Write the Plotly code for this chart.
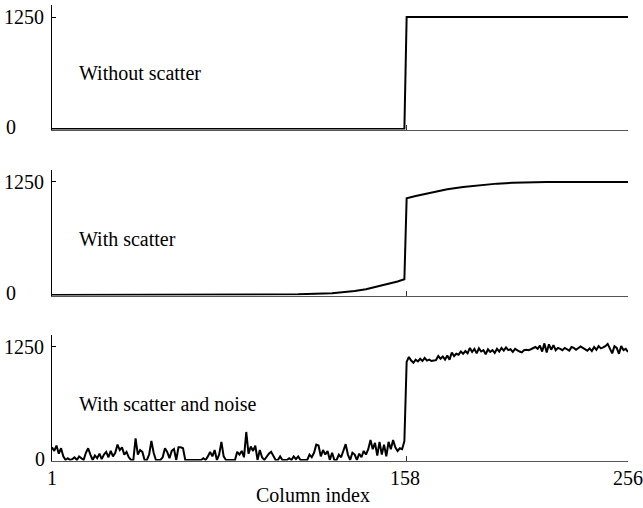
import plotly.graph_objects as go

W, H = 643, 508

# ---- data ----
cols_clean = [1, 157, 158, 256]
vals_clean = [0, 0, 1250, 1250]

cols_scatter = [1, 60, 80, 96, 110, 125, 130, 135, 140, 145, 150, 154, 157,
                158, 162, 168, 176, 183, 190, 198, 205, 212, 220, 230, 256]
vals_scatter = [0, 0, 1, 2, 8, 19, 30, 45, 63, 92, 125, 150, 174,
                1070, 1095, 1130, 1169, 1195, 1214, 1232, 1242, 1247, 1250, 1250, 1250]

cols_noise = list(range(1, 257))
vals_noise = [
    # 1-18
    140, 100, 160, 70, 130, 40, 0, 20, 0, 10, 30, 0, 40, 20, 0, 80, 130, 60,
    # 19-29
    0, 50, 20, 70, 10, 60, 90, 30, 100, 40, 80,
    # 30-37
    170, 110, 140, 60, 90, 30, 0, 0,
    # 38-49
    240, 60, 110, 90, 0, 0, 60, 210, 80, 0, 0, 0,
    # 50-61
    30, 130, 90, 20, 100, 120, 0, 140, 140, 130, 0, 0,
    # 62-75
    0, 0, 0, 0, 0, 0, 20, 0, 40, 90, 40, 110, 0, 60,
    # 76-86
    200, 40, 0, 0, 0, 0, 0, 90, 60, 100, 30,
    # 87-95
    310, 70, 150, 100, 160, 0, 110, 30, 0,
    # 96-104
    40, 70, 90, 40, 0, 0, 40, 0, 0,
    # 105-114
    0, 20, 0, 40, 10, 40, 0, 0, 0, 0,
    # 115-127
    60, 30, 80, 170, 160, 40, 110, 60, 100, 0, 80, 0, 0,
    # 128-141
    60, 30, 110, 175, 60, 0, 80, 60, 0, 70, 30, 100, 60, 120,
    # 142-157
    220, 120, 190, 50, 200, 60, 170, 40, 200, 120, 220, 140, 100, 130, 120, 210,
    # 158-165
    1085, 1140, 1100, 1075, 1110, 1090, 1120, 1095,
    # 166-175
    1130, 1100, 1110, 1095, 1100, 1105, 1150, 1120, 1145, 1110,
    # 176-185
    1155, 1110, 1190, 1150, 1175, 1165, 1200, 1175, 1205, 1180,
    # 186-195
    1240, 1195, 1230, 1180, 1235, 1200, 1215, 1170, 1225, 1195,
    # 196-205
    1215, 1185, 1230, 1200, 1240, 1210, 1245, 1215, 1225, 1195,
    # 206-215
    1230, 1210, 1200, 1190, 1215, 1220, 1215, 1225, 1240, 1250,
    # 216-225
    1230, 1265, 1200, 1290, 1190, 1280, 1220, 1270, 1215, 1240,
    # 226-235
    1230, 1215, 1240, 1225, 1210, 1250, 1240, 1220, 1235, 1255,
    # 236-245
    1240, 1225, 1210, 1235, 1205, 1250, 1220, 1260, 1235, 1245,
    # 246-256
    1260, 1285, 1235, 1180, 1260, 1240, 1175, 1260, 1215, 1230, 1195,
]
assert len(vals_noise) == len(cols_noise)

panel_labels = ["Without scatter", "With scatter", "With scatter and noise"]
x_ticks = [1, 158, 256]
y_ticks = [0, 1250]
x_title = "Column index"

FONT = "Times New Roman, Liberation Serif, DejaVu Serif, serif"
FS = 20

def px(x):
    return x / W

def py(y):
    return 1 - y / H

fig = go.Figure()
series = [(cols_clean, vals_clean), (cols_scatter, vals_scatter), (cols_noise, vals_noise)]
for i, (xs, ys) in enumerate(series):
    sfx = "" if i == 0 else str(i + 1)
    fig.add_trace(go.Scatter(x=xs, y=ys, mode="lines",
                             line=dict(color="black", width=2),
                             xaxis="x" + sfx, yaxis="y" + sfx,
                             showlegend=False, hoverinfo="skip"))

# pixel positions of y=0 and y=1250 for each panel
zero_px = [129, 295, 460]
top_px = [17, 182, 347]
ymin, ymax = -6, 1380
xdom = [px(52), px(628)]
layout = dict(width=W, height=H, margin=dict(l=0, r=0, t=0, b=0),
              paper_bgcolor="white", plot_bgcolor="white",
              font=dict(family=FONT, size=FS, color="black"))
for i in range(3):
    sfx = "" if i == 0 else str(i + 1)
    scale = (zero_px[i] - top_px[i]) / 1250.0
    bot = zero_px[i] - ymin * scale
    top = zero_px[i] - ymax * scale
    layout["xaxis" + sfx] = dict(domain=xdom, range=[1, 256], anchor="y" + sfx,
                                 tickvals=x_ticks, showticklabels=False,
                                 ticks="inside", ticklen=5, tickcolor="#333",
                                 showline=True, linecolor="#555", linewidth=1,
                                 showgrid=False, zeroline=False, fixedrange=True)
    layout["yaxis" + sfx] = dict(domain=[py(bot), py(top)], range=[ymin, ymax],
                                 anchor="x" + sfx, tickvals=y_ticks,
                                 showticklabels=False, ticks="inside", ticklen=4,
                                 tickcolor="black", showline=True, linecolor="black",
                                 linewidth=1, showgrid=False, zeroline=False,
                                 fixedrange=True)
fig.update_layout(**layout)

ann = []
# panel labels
label_y = [73, 239, 404]
for i in range(3):
    ann.append(dict(text=panel_labels[i], x=px(77), y=py(label_y[i]), xref="paper",
                    yref="paper", xanchor="left", yanchor="middle", showarrow=False))
# y tick labels
for i in range(3):
    ann.append(dict(text=str(y_ticks[1]), x=px(46), y=py(top_px[i]), xref="paper",
                    yref="paper", xanchor="right", yanchor="middle", showarrow=False))
zero_lbl = [(4, 127), (4, 293), (33, 459)]
for (zx, zy) in zero_lbl:
    ann.append(dict(text=str(y_ticks[0]), x=px(zx), y=py(zy), xref="paper",
                    yref="paper", xanchor="left", yanchor="middle", showarrow=False))
# x tick labels
x_lbl_px = [52, 405, 628]
for v, xp in zip(x_ticks, x_lbl_px):
    ann.append(dict(text=str(v), x=px(xp), y=py(478), xref="paper", yref="paper",
                    xanchor="center", yanchor="middle", showarrow=False))
ann.append(dict(text=x_title, x=px(313), y=py(495), xref="paper", yref="paper",
                xanchor="center", yanchor="middle", showarrow=False))
fig.update_layout(annotations=ann)

fig.write_html("out.html")
